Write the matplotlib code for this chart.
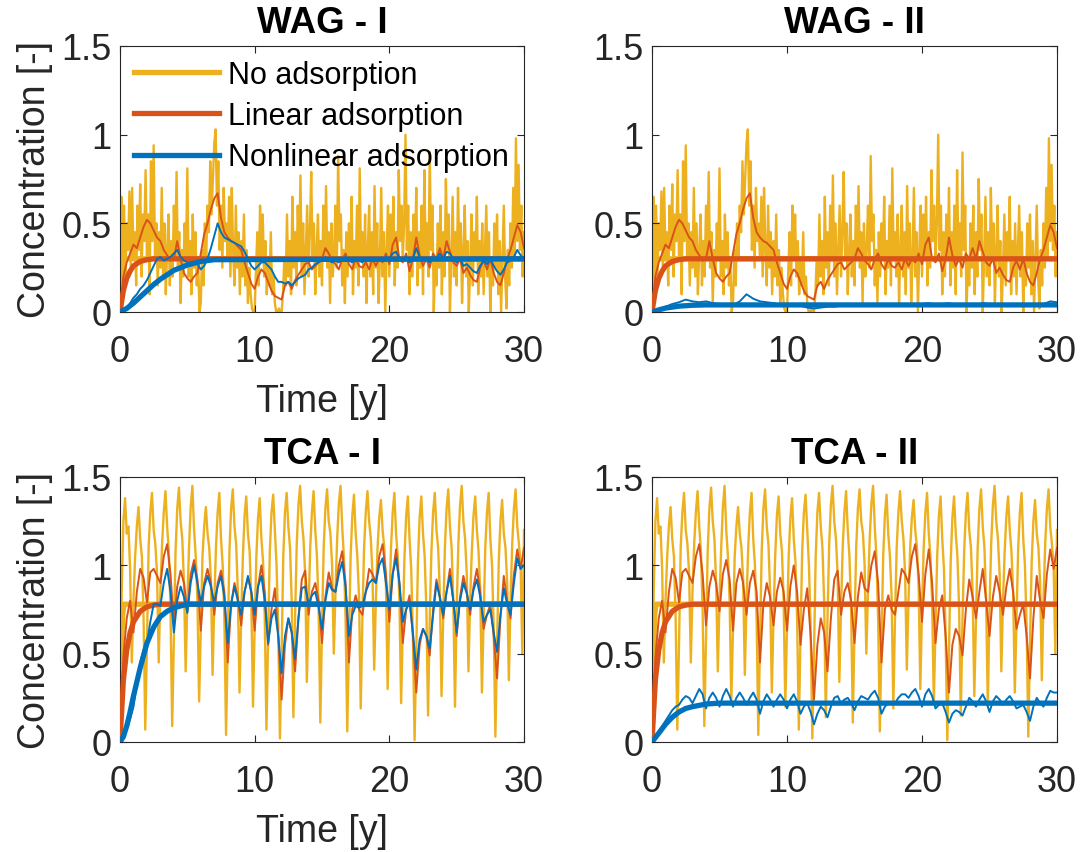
import numpy as np
import matplotlib
matplotlib.use("Agg")
import matplotlib.pyplot as plt
from matplotlib.lines import Line2D

plt.rcParams['font.family'] = ['Liberation Sans', 'DejaVu Sans']

# ---------------- text ----------------
titles = ["WAG - I", "WAG - II", "TCA - I", "TCA - II"]
legend_labels = ["No adsorption", "Linear adsorption", "Nonlinear adsorption"]
x_ticks = [0, 10, 20, 30]
y_ticks = [0, 0.5, 1, 1.5]
y_tick_labels = ["0", "0.5", "1", "1.5"]
x_label = "Time [y]"
y_label = "Concentration [-]"

# ---------------- WAG data ----------------
# No adsorption, sampled every 0.1 y (0..30)
wag_none = [
    0.00, 0.65, 0.30, 0.60, 0.20, 0.50, 0.35, 0.68, 0.25, 0.70,
    0.30, 0.45, 0.15, 0.60, 0.35, 0.72, 0.20, 0.55, 0.40, 0.80,
    0.30, 0.55, 0.10, 0.85, 0.40, 0.94, 0.30, 0.50, 0.15, 0.45,
    0.25, 0.70, 0.20, 0.50, 0.10, 0.35, 0.55, 0.15, 0.40, 0.20,
    0.60, 0.30, 0.79, 0.25, 0.45, 0.05, 0.35, 0.20, 0.50, 0.30,
    0.81, 0.20, 0.40, 0.10, 0.55, 0.25, 0.45, 0.15, 0.30, 0.00,
    0.05, 0.35, 0.15, 0.50, 0.30, 0.60, 0.45, 0.85, 0.55, 0.75,
    0.95, 1.03, 0.60, 0.85, 0.35, 0.60, 0.25, 0.70, 0.40, 0.50,
    0.30, 0.65, 0.20, 0.70, 0.35, 0.15, 0.60, 0.25, 0.45, 0.10,
    0.40, 0.20, 0.55, 0.15, 0.35, 0.05, 0.25, 0.10, 0.02, 0.00,
    0.00, 0.25, 0.45, 0.15, 0.60, 0.30, 0.55, 0.20, 0.40, 0.10,
    0.30, 0.15, 0.45, 0.10, 0.20, 0.05, 0.00, 0.00, 0.02, 0.00,
    0.00, 0.10, 0.30, 0.15, 0.55, 0.20, 0.40, 0.10, 0.65, 0.25,
    0.45, 0.15, 0.60, 0.30, 0.77, 0.20, 0.50, 0.10, 0.35, 0.60,
    0.20, 0.45, 0.79, 0.30, 0.50, 0.10, 0.35, 0.55, 0.20, 0.40,
    0.15, 0.60, 0.30, 0.71, 0.25, 0.45, 0.05, 0.50, 0.20, 0.35,
    0.60, 0.25, 0.88, 0.40, 0.55, 0.15, 0.35, 0.05, 0.45, 0.20,
    0.50, 0.30, 0.65, 0.10, 0.40, 0.25, 0.60, 0.15, 0.81, 0.30,
    0.45, 0.20, 0.55, 0.05, 0.35, 0.60, 0.20, 0.45, 0.10, 0.71,
    0.25, 0.50, 0.05, 0.30, 0.70, 0.20, 0.45, 0.00, 0.35, 0.60,
    0.20, 0.55, 0.30, 0.65, 0.15, 0.45, 0.25, 0.80, 0.40, 0.60,
    0.30, 0.50, 1.00, 0.35, 0.60, 0.10, 0.45, 0.20, 0.55, 0.30,
    0.70, 0.15, 0.45, 0.25, 0.60, 0.10, 0.80, 0.30, 0.50, 0.20,
    0.90, 0.35, 0.60, 0.00, 0.30, 0.15, 0.50, 0.25, 0.60, 0.10,
    0.45, 0.20, 0.75, 0.35, 0.55, 0.00, 0.30, 0.65, 0.20, 0.45,
    0.15, 0.70, 0.30, 0.50, 0.05, 0.35, 0.60, 0.20, 0.40, 0.00,
    0.25, 0.55, 0.15, 0.45, 0.30, 0.65, 0.10, 0.40, 0.20, 0.50,
    0.10, 0.35, 0.60, 0.20, 0.45, 0.00, 0.30, 0.15, 0.50, 0.25,
    0.55, 0.10, 0.40, 0.00, 0.30, 0.60, 0.20, 0.02, 0.35, 0.15,
    0.50, 0.25, 0.70, 0.30, 0.98, 0.40, 0.83, 0.35, 0.60, 0.20,
    0.45,
]
# Linear adsorption, every 0.25 y
wag_linear = [
    0.00, 0.20, 0.28, 0.33, 0.38, 0.36, 0.42, 0.48, 0.52, 0.50, 0.46, 0.42,
    0.40, 0.35, 0.32, 0.29, 0.30, 0.40, 0.30, 0.22, 0.19, 0.17, 0.20, 0.22,
    0.33, 0.44, 0.50, 0.58, 0.64, 0.67, 0.53, 0.45, 0.42, 0.40, 0.39, 0.37,
    0.35, 0.28, 0.22, 0.16, 0.13, 0.20, 0.24, 0.22, 0.17, 0.12, 0.09, 0.08,
    0.07, 0.15, 0.17, 0.13, 0.18, 0.21, 0.24, 0.27, 0.28, 0.24, 0.26, 0.28,
    0.30, 0.36, 0.33, 0.29, 0.27, 0.24, 0.30, 0.33, 0.27, 0.24, 0.30, 0.26,
    0.25, 0.28, 0.24, 0.30, 0.26, 0.30, 0.28, 0.33, 0.27, 0.38, 0.42, 0.30,
    0.28, 0.33, 0.23, 0.30, 0.42, 0.32, 0.26, 0.30, 0.25, 0.33, 0.30, 0.36,
    0.30, 0.40, 0.34, 0.28, 0.26, 0.30, 0.22, 0.25, 0.21, 0.18, 0.17, 0.25,
    0.29, 0.24, 0.30, 0.22, 0.17, 0.15, 0.22, 0.30, 0.35, 0.42, 0.49, 0.45,
    0.36,
]
# Nonlinear adsorption (WAG - I), every 0.25 y
wag_nonlin_I = [
    0.00, 0.01, 0.02, 0.05, 0.08, 0.10, 0.13, 0.15, 0.18, 0.22, 0.26, 0.30,
    0.31, 0.29, 0.30, 0.31, 0.33, 0.35, 0.31, 0.29, 0.28, 0.28, 0.28, 0.27,
    0.24, 0.26, 0.30, 0.36, 0.43, 0.50, 0.45, 0.42, 0.41, 0.40, 0.39, 0.38,
    0.37, 0.34, 0.30, 0.26, 0.24, 0.26, 0.28, 0.28, 0.26, 0.24, 0.20, 0.17,
    0.17, 0.16, 0.17, 0.15, 0.17, 0.19, 0.20, 0.21, 0.24, 0.25, 0.27, 0.28,
    0.29, 0.31, 0.29, 0.28, 0.29, 0.28, 0.30, 0.31, 0.29, 0.28, 0.30, 0.29,
    0.28, 0.30, 0.29, 0.30, 0.29, 0.30, 0.30, 0.31, 0.30, 0.33, 0.34, 0.30,
    0.30, 0.31, 0.28, 0.30, 0.36, 0.31, 0.29, 0.30, 0.28, 0.31, 0.30, 0.33,
    0.30, 0.34, 0.33, 0.30, 0.28, 0.30, 0.26, 0.27, 0.25, 0.23, 0.22, 0.26,
    0.29, 0.27, 0.30, 0.26, 0.23, 0.21, 0.24, 0.28, 0.29, 0.31, 0.35, 0.32,
    0.30,
]
# Nonlinear adsorption (WAG - II), every 0.5 y
wag_nonlin_II = [
    0.000, 0.015, 0.030, 0.045, 0.055, 0.070, 0.060, 0.055, 0.060, 0.050,
    0.045, 0.045, 0.040, 0.060, 0.100, 0.075, 0.060, 0.055, 0.050, 0.040,
    0.035, 0.040, 0.035, 0.025, 0.020, 0.025, 0.030, 0.030, 0.035, 0.040,
    0.040, 0.045, 0.040, 0.040, 0.045, 0.040, 0.040, 0.045, 0.040, 0.040,
    0.045, 0.050, 0.040, 0.045, 0.050, 0.040, 0.040, 0.045, 0.040, 0.050,
    0.045, 0.040, 0.035, 0.040, 0.040, 0.045, 0.040, 0.040, 0.045, 0.060,
    0.055,
]
# Mean (expected) curves, WAG
wag_mean_none_t = [0, 0.1, 0.2, 30]
wag_mean_none_v = [0, 0.22, 0.30, 0.30]
wag_mean_lin_t = [0, 0.25, 0.5, 0.75, 1, 1.5, 2, 2.5, 3, 30]
wag_mean_lin_v = [0, 0.12, 0.19, 0.23, 0.26, 0.285, 0.295, 0.30, 0.30, 0.30]
wag_mean_nl_I_t = [0, 0.5, 1, 1.5, 2, 2.5, 3, 3.5, 4, 5, 6, 7, 30]
wag_mean_nl_I_v = [0, 0.02, 0.05, 0.085, 0.12, 0.155, 0.185, 0.21, 0.235, 0.265, 0.285, 0.295, 0.30]
wag_mean_nl_II_t = [0, 0.5, 1, 2, 3, 4, 30]
wag_mean_nl_II_v = [0, 0.012, 0.022, 0.033, 0.038, 0.04, 0.04]

# ---------------- TCA data ----------------
# No adsorption, every 0.125 y
tca_none = [
    0.00, 0.85, 1.25, 1.38, 1.18, 1.22, 0.98, 0.45,
    0.80, 1.05, 1.22, 1.33, 1.15, 1.05, 0.70, 0.07,
    0.55, 1.10, 1.30, 1.41, 1.20, 1.12, 0.95, 0.45,
    0.85, 1.12, 1.30, 1.42, 1.22, 1.08, 0.75, 0.09,
    0.60, 1.08, 1.32, 1.44, 1.25, 1.15, 0.90, 0.40,
    0.80, 1.10, 1.33, 1.45, 1.20, 1.05, 0.80, 0.23,
    0.65, 1.05, 1.22, 1.33, 1.18, 1.10, 0.92, 0.38,
    0.78, 1.10, 1.30, 1.41, 1.15, 1.00, 0.70, 0.04,
    0.55, 1.08, 1.32, 1.43, 1.22, 1.12, 0.85, 0.28,
    0.70, 1.05, 1.28, 1.39, 1.18, 1.08, 0.80, 0.20,
    0.65, 1.05, 1.27, 1.38, 1.15, 1.02, 0.70, 0.07,
    0.60, 1.08, 1.30, 1.40, 1.20, 1.00, 0.65, 0.02,
    0.50, 1.05, 1.30, 1.41, 1.22, 1.10, 0.80, 0.14,
    0.70, 1.12, 1.34, 1.45, 1.25, 1.15, 0.95, 0.34,
    0.75, 1.10, 1.30, 1.42, 1.20, 1.05, 0.75, 0.11,
    0.65, 1.10, 1.32, 1.43, 1.25, 1.18, 1.00, 0.50,
    0.85, 1.15, 1.35, 1.45, 1.22, 1.05, 0.70, 0.06,
    0.55, 1.05, 1.28, 1.40, 1.18, 1.05, 0.82, 0.19,
    0.70, 1.10, 1.30, 1.42, 1.25, 1.15, 0.95, 0.41,
    0.80, 1.10, 1.27, 1.37, 1.20, 1.10, 0.88, 0.30,
    0.75, 1.10, 1.30, 1.41, 1.18, 1.05, 0.80, 0.22,
    0.65, 1.05, 1.28, 1.39, 1.15, 0.98, 0.60, 0.01,
    0.50, 1.02, 1.27, 1.39, 1.18, 1.05, 0.75, 0.15,
    0.70, 1.08, 1.30, 1.41, 1.20, 1.10, 0.85, 0.26,
    0.70, 1.10, 1.32, 1.43, 1.22, 1.10, 0.80, 0.20,
    0.75, 1.12, 1.34, 1.45, 1.25, 1.15, 0.95, 0.40,
    0.80, 1.08, 1.28, 1.39, 1.20, 1.08, 0.85, 0.28,
    0.70, 1.10, 1.30, 1.41, 1.15, 1.00, 0.65, 0.03,
    0.55, 1.02, 1.25, 1.37, 1.18, 1.10, 0.90, 0.35,
    0.80, 1.12, 1.32, 1.43, 1.22, 1.12, 1.00, 0.50,
    1.20,
]
# Linear adsorption, every 0.25 y
tca_linear = [
    0.00, 0.48, 0.70, 0.80, 0.62, 0.85, 0.98, 0.93, 0.79, 0.96, 0.98, 0.94,
    0.90, 1.05, 1.12, 0.95, 0.66, 0.88, 0.97, 0.90, 0.74, 0.95, 1.03, 0.92,
    0.63, 0.90, 0.98, 0.90, 0.72, 0.90, 0.97, 0.85, 0.45, 0.78, 0.90, 0.82,
    0.66, 0.85, 0.93, 0.85, 0.63, 0.88, 1.00, 0.85, 0.55, 0.75, 0.87, 0.60,
    0.24, 0.55, 0.70, 0.62, 0.40, 0.70, 0.92, 0.97, 0.72, 0.85, 0.90, 0.80,
    0.56, 0.82, 0.96, 0.87, 0.85, 1.00, 1.08, 0.90, 0.45, 0.75, 0.83, 0.75,
    0.72, 0.85, 0.98, 0.95, 0.90, 1.05, 1.12, 0.95, 0.68, 0.95, 1.09, 0.90,
    0.56, 0.75, 0.83, 0.60, 0.28, 0.55, 0.64, 0.60, 0.49, 0.75, 0.92, 0.82,
    0.70, 0.85, 0.98, 0.80, 0.60, 0.82, 0.94, 0.85, 0.72, 0.88, 0.98, 0.85,
    0.64, 0.72, 0.78, 0.60, 0.36, 0.70, 0.94, 0.80, 0.70, 0.95, 1.09, 0.98,
    1.10,
]
# Nonlinear adsorption (TCA - I), every 0.25 y
tca_nonlin_I = [
    0.00, 0.03, 0.08, 0.13, 0.20, 0.33, 0.45, 0.52, 0.56, 0.68, 0.78, 0.78,
    0.77, 0.90, 0.98, 0.85, 0.62, 0.80, 0.88, 0.82, 0.73, 0.90, 1.00, 0.90,
    0.79, 0.88, 0.94, 0.88, 0.79, 0.88, 0.94, 0.82, 0.56, 0.78, 0.88, 0.80,
    0.72, 0.85, 0.94, 0.85, 0.72, 0.88, 0.94, 0.80, 0.56, 0.70, 0.75, 0.60,
    0.39, 0.60, 0.70, 0.62, 0.47, 0.70, 0.87, 0.88, 0.78, 0.83, 0.85, 0.76,
    0.64, 0.80, 0.90, 0.86, 0.85, 0.95, 1.02, 0.88, 0.60, 0.72, 0.77, 0.76,
    0.77, 0.85, 0.90, 0.92, 0.90, 1.00, 1.04, 0.90, 0.75, 0.95, 1.04, 0.90,
    0.68, 0.75, 0.79, 0.62, 0.41, 0.58, 0.64, 0.60, 0.53, 0.72, 0.90, 0.82,
    0.72, 0.85, 0.94, 0.80, 0.62, 0.80, 0.90, 0.84, 0.75, 0.86, 0.92, 0.82,
    0.68, 0.72, 0.75, 0.62, 0.51, 0.72, 0.87, 0.78, 0.72, 0.90, 1.04, 0.98,
    1.00,
]
# Nonlinear adsorption (TCA - II), every 0.25 y
tca_nonlin_II = [
    0.00, 0.03, 0.06, 0.09, 0.12, 0.15, 0.18, 0.20, 0.21, 0.24, 0.26, 0.25,
    0.22, 0.26, 0.30, 0.27, 0.19, 0.25, 0.28, 0.25, 0.20, 0.26, 0.30, 0.26,
    0.20, 0.25, 0.28, 0.25, 0.21, 0.25, 0.28, 0.24, 0.16, 0.23, 0.27, 0.24,
    0.20, 0.24, 0.27, 0.24, 0.19, 0.24, 0.27, 0.23, 0.16, 0.20, 0.22, 0.17,
    0.10, 0.16, 0.20, 0.18, 0.14, 0.20, 0.25, 0.26, 0.22, 0.24, 0.25, 0.22,
    0.18, 0.23, 0.26, 0.25, 0.24, 0.27, 0.29, 0.25, 0.16, 0.20, 0.22, 0.22,
    0.22, 0.25, 0.27, 0.27, 0.25, 0.28, 0.30, 0.26, 0.20, 0.27, 0.30, 0.26,
    0.19, 0.21, 0.22, 0.17, 0.11, 0.16, 0.18, 0.17, 0.15, 0.20, 0.25, 0.23,
    0.20, 0.24, 0.27, 0.23, 0.17, 0.23, 0.26, 0.24, 0.21, 0.24, 0.26, 0.23,
    0.19, 0.20, 0.21, 0.17, 0.12, 0.20, 0.25, 0.22, 0.20, 0.25, 0.29, 0.28,
    0.28,
]
# Mean (expected) curves, TCA
tca_mean_none_t = [0, 0.1, 0.2, 0.3, 30]
tca_mean_none_v = [0, 0.50, 0.72, 0.78, 0.78]
tca_mean_lin_t = [0, 0.25, 0.5, 0.75, 1, 1.5, 2, 2.5, 3, 30]
tca_mean_lin_v = [0, 0.35, 0.52, 0.62, 0.68, 0.74, 0.765, 0.775, 0.78, 0.78]
tca_mean_nl_I_t = [0, 0.25, 0.5, 0.75, 1, 1.5, 2, 2.5, 3, 3.5, 4, 5, 30]
tca_mean_nl_I_v = [0, 0.03, 0.09, 0.17, 0.26, 0.42, 0.56, 0.65, 0.71, 0.74, 0.76, 0.78, 0.78]
tca_mean_nl_II_t = [0, 0.5, 1, 1.5, 2, 2.5, 3, 4, 5, 30]
tca_mean_nl_II_v = [0, 0.05, 0.10, 0.14, 0.17, 0.19, 0.20, 0.215, 0.22, 0.22]

# ---------------- style ----------------
C_NONE = "#EDB120"
C_LIN = "#D95319"
C_NL = "#0072BD"
AX_COL = "#262626"
THIN = 1.4
THICK = 3.8


def grid(values):
    return np.linspace(0, 30, len(values))


panels = [
    dict(none=wag_none, lin=wag_linear, nl=wag_nonlin_I,
         m_none=(wag_mean_none_t, wag_mean_none_v), m_lin=(wag_mean_lin_t, wag_mean_lin_v),
         m_nl=(wag_mean_nl_I_t, wag_mean_nl_I_v)),
    dict(none=wag_none, lin=wag_linear, nl=wag_nonlin_II,
         m_none=(wag_mean_none_t, wag_mean_none_v), m_lin=(wag_mean_lin_t, wag_mean_lin_v),
         m_nl=(wag_mean_nl_II_t, wag_mean_nl_II_v)),
    dict(none=tca_none, lin=tca_linear, nl=tca_nonlin_I,
         m_none=(tca_mean_none_t, tca_mean_none_v), m_lin=(tca_mean_lin_t, tca_mean_lin_v),
         m_nl=(tca_mean_nl_I_t, tca_mean_nl_I_v)),
    dict(none=tca_none, lin=tca_linear, nl=tca_nonlin_II,
         m_none=(tca_mean_none_t, tca_mean_none_v), m_lin=(tca_mean_lin_t, tca_mean_lin_v),
         m_nl=(tca_mean_nl_II_t, tca_mean_nl_II_v)),
]

W, H = 1080, 853
rects = [
    (120, 47, 404, 266),
    (652, 47, 405, 266),
    (120, 478, 404, 265),
    (652, 478, 405, 265),
]

fig = plt.figure(figsize=(W / 100, H / 100), dpi=100)

for i, (p, r) in enumerate(zip(panels, rects)):
    x0, y0, w, h = r
    ax = fig.add_axes([x0 / W, 1 - (y0 + h) / H, w / W, h / H])
    ax.plot(grid(p["none"]), p["none"], color=C_NONE, lw=THIN + 0.3, zorder=1)
    ax.plot(*p["m_none"], color=C_NONE, lw=THICK, zorder=2)
    ax.plot(grid(p["lin"]), p["lin"], color=C_LIN, lw=THIN, zorder=3)
    ax.plot(*p["m_lin"], color=C_LIN, lw=THICK, zorder=4)
    ax.plot(grid(p["nl"]), p["nl"], color=C_NL, lw=THIN, zorder=5)
    ax.plot(*p["m_nl"], color=C_NL, lw=THICK, zorder=6)

    ax.set_xlim(0, 30)
    ax.set_ylim(0, 1.5)
    ax.set_xticks(x_ticks)
    ax.set_xticklabels([str(v) for v in x_ticks])
    ax.set_yticks(y_ticks)
    ax.set_yticklabels(y_tick_labels)
    ax.tick_params(direction="in", length=5, width=0.8, colors=AX_COL,
                   labelsize=26, top=True, right=True)
    ax.tick_params(axis="x", pad=16)
    ax.tick_params(axis="y", pad=6)
    for s in ax.spines.values():
        s.set_color(AX_COL)
        s.set_linewidth(0.8)
    ax.set_title(titles[i], fontsize=26.5, fontweight="bold", pad=10)
    if i % 2 == 0:
        ax.set_ylabel(y_label, fontsize=27, color=AX_COL, labelpad=6)
        ax.set_xlabel(x_label, fontsize=27, color=AX_COL, labelpad=10)
    if i == 0:
        handles = [Line2D([], [], color=c, lw=THICK) for c in (C_NONE, C_LIN, C_NL)]
        ax.legend(handles, legend_labels, loc="upper left", frameon=False,
                  fontsize=22, handlelength=2.78, handletextpad=0.3,
                  labelspacing=0.37, borderaxespad=0.05)

fig.savefig("out.png", dpi=100)
